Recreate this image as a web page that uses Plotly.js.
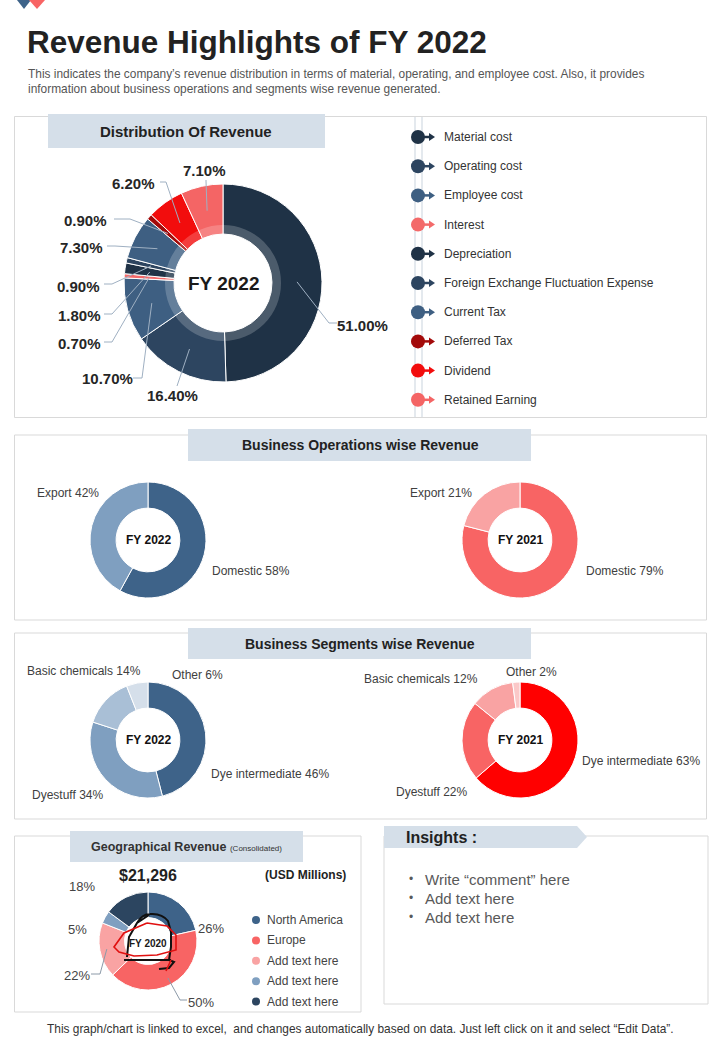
<!DOCTYPE html>
<html><head><meta charset="utf-8">
<script src="https://cdn.plot.ly/plotly-3.0.1.min.js"></script>
<style>html,body{margin:0;padding:0;background:#fff;} #chart{width:720px;height:1040px;}</style>
</head><body><div id="chart"></div>
<script>
// ---------------- DATA ----------------
const costCategories = ['Material cost','Operating cost','Employee cost','Interest','Depreciation','Foreign Exchange Fluctuation Expense','Current Tax','Deferred Tax','Dividend','Retained Earning'];
const costValues = [51.0, 16.4, 10.7, 0.7, 1.8, 0.9, 7.3, 0.9, 6.2, 7.1];
const costYear = 'FY 2022';

const opsCategories = ['Domestic','Export'];
const ops2022 = [58, 42];
const ops2021 = [79, 21];

const segCategories = ['Dye intermediate','Dyestuff','Basic chemicals','Other'];
const seg2022 = [46, 34, 14, 6];
const seg2021 = [63, 22, 12, 2];

const geoCategories = ['North America','Europe','Add text here','Add text here','Add text here'];
const geoValues = [26, 50, 22, 5, 18];
const geoTotal = '$21,296';
const geoUnit = '(USD Millions)';
const geoYear = 'FY 2020';

const insightLines = ['Write “comment” here','Add text here','Add text here'];

// ---------------- STYLE ----------------
const W = 720, H = 1040;
const FONT = 'Liberation Sans, Arial, sans-serif';
const costColors = ['#1f3246','#2d4560','#3e5f82','#f36a6a','#1f3246','#2d4560','#3e5f82','#a30a0a','#f20d0d','#f46565'];
const opsColors22 = ['#3e6389','#7f9fc0'];
const opsColors21 = ['#f86464','#f9a3a3'];
const segColors22 = ['#3e6389','#7f9fc0','#a9bfd6','#d5dfea'];
const segColors21 = ['#ff0000','#f86464','#f9a3a3','#fbc8c8'];
const geoColors = ['#3e6389','#f86464','#f9a3a3','#7f9fc0','#2c4560'];

function dom(cx, cy, r){ return {x:[(cx-r)/W,(cx+r)/W], y:[1-(cy+r)/H, 1-(cy-r)/H]}; }
function slicePoint(vals, i, cx, cy, r){
  const tot = vals.reduce((a,b)=>a+b,0);
  let c = 0; for(let k=0;k<i;k++) c += vals[k];
  const a = 2*Math.PI*(c + vals[i]/2)/tot;
  return [cx + r*Math.sin(a), cy - r*Math.cos(a)];
}
function pie(vals, labels, colors, cx, cy, r, hole, lw){
  return {type:'pie', values:vals, labels:labels.map((l,i)=>i+':'+l), sort:false, direction:'clockwise', rotation:0,
    hole:hole, domain:dom(cx,cy,r), textinfo:'none', hoverinfo:'skip', showlegend:false,
    marker:{colors:colors, line:{color:'#ffffff', width:lw}}};
}

const shapes = [], annotations = [];
function rect(x0,y0,x1,y1,fill,line,layer){ shapes.push({type:'rect',xref:'x',yref:'y',x0,y0,x1,y1,fillcolor:fill||'rgba(0,0,0,0)',line:line?{color:line,width:1}:{width:0},layer:layer||'below'}); }
function path(d,color,width,layer,fill){ shapes.push({type:'path',xref:'x',yref:'y',path:d,line:{color:color,width:width},fillcolor:fill||'rgba(0,0,0,0)',layer:layer||'above'}); }
function txt(x,y,t,size,color,xanchor,extra){ annotations.push(Object.assign({xref:'x',yref:'y',x,y,text:t,showarrow:false,xanchor:xanchor||'center',yanchor:'middle',font:{family:FONT,size:size,color:color}},extra||{})); }

// logo
path('M17,0 L31,0 L24,9 Z','#3e6389',0,'above','#3e6389');
path('M29,0 L45,0 L37,9 Z','#f86464',0,'above','#f86464');

// title & subtitle
txt(25,42,'<b>Revenue Highlights of FY 2022</b>',31.5,'#222222','left');
txt(26,81,'This indicates the company’s revenue distribution in terms of material, operating, and employee cost. Also, it provides<br>information about business operations and segments wise revenue generated.',11.9,'#555555','left',{align:'left'});

// ---------- Section 1 ----------
rect(14.5,116.5,706.5,417.5,null,'#d9d9d9');
rect(48,114,325,148,'#d5dfe9');
txt(186,131,'<b>Distribution Of Revenue</b>',15,'#222222');

const C1 = [223,283], R1 = 99;
const traces = [{type:'scatter',x:[],y:[],hoverinfo:'skip',showlegend:false}];
traces.push(pie(costValues, costCategories, costColors, C1[0], C1[1], R1, 49/99, 1));
traces.push({type:'pie', values:[1], labels:['ring'], sort:false, hole:49/58, domain:dom(C1[0],C1[1],58), textinfo:'none', hoverinfo:'skip', showlegend:false, marker:{colors:['rgba(255,255,255,0.2)'], line:{width:0}}});
txt(C1[0],C1[1],'<b>'+costYear+'</b>',19,'#1a1a1a');

// label positions (layout) and leader elbows
const costLabelPos = [[362,325],[172,395],[107,378],[79,343],[79,315],[78,286],[81,247],[85,220],[133,183],[204,170]];
const costLeader = [[[337,323],[329,323]],[[177,386],[177,386]],[[133,378],[142,378]],[[104,342],[112,342]],[[104,314],[112,314]],[[104,284],[112,284]],[[107,246],[115,246]],[[114,219],[130,219]],[[160,182],[166,182]],[[206,180],[206,181]]];
costValues.forEach((v,i)=>{
  txt(costLabelPos[i][0], costLabelPos[i][1], '<b>'+v.toFixed(2)+'%</b>', 15, '#262626');
  const p = slicePoint(costValues, i, C1[0], C1[1], 74);
  const L = costLeader[i];
  path('M'+L[0][0]+','+L[0][1]+' L'+L[1][0]+','+L[1][1]+' L'+p[0].toFixed(1)+','+p[1].toFixed(1), '#9fb0c2', 1);
});

// custom legend
path('M415,117 L415,417','#c9d3dd',1,'below');
path('M422,117 L422,417','#c9d3dd',1,'below');
costCategories.forEach((c,i)=>{
  const y = 137 + 29.2*i;
  const col = costColors[i];
  shapes.push({type:'circle',xref:'x',yref:'y',x0:411,x1:425,y0:y-7,y1:y+7,fillcolor:col,line:{width:0},layer:'above'});
  path('M424,'+y+' L430,'+y, col, 2.5);
  path('M429,'+(y-4)+' L435,'+y+' L429,'+(y+4)+' Z', col, 0, 'above', col);
  txt(442, y, c, 12, '#333333', 'left');
});

// ---------- Section 2 ----------
rect(14.5,435,706.5,620,null,'#d9d9d9');
rect(188,429,531,461,'#d5dfe9');
txt(360,445,'<b>Business Operations wise Revenue</b>',14,'#222222');
traces.push(pie(ops2022, opsCategories, opsColors22, 148, 540, 58, 0.55, 1));
traces.push(pie(ops2021, opsCategories, opsColors21, 520, 540, 58, 0.55, 1));
txt(148,540,'<b>FY 2022</b>',12,'#111111');
txt(520,540,'<b>FY 2021</b>',12,'#111111');
txt(210,571, opsCategories[0]+' '+ops2022[0]+'%',12,'#404040','left');
txt(101,493, opsCategories[1]+' '+ops2022[1]+'%',12,'#404040','right');
txt(584,571, opsCategories[0]+' '+ops2021[0]+'%',12,'#404040','left');
txt(474,493, opsCategories[1]+' '+ops2021[1]+'%',12,'#404040','right');

// ---------- Section 3 ----------
rect(14.5,633,706.5,819,null,'#d9d9d9');
rect(188,628,531,659,'#d5dfe9');
txt(360,644,'<b>Business Segments wise Revenue</b>',14,'#222222');
traces.push(pie(seg2022, segCategories, segColors22, 148, 740, 58, 0.55, 1));
traces.push(pie(seg2021, segCategories, segColors21, 520, 740, 58, 0.55, 1));
txt(148,740,'<b>FY 2022</b>',12,'#111111');
txt(520,740,'<b>FY 2021</b>',12,'#111111');
const seg22Pos = [[209,774],[30,795],[25,671],[170,675]];
const seg21Pos = [[580,761],[394,792],[362,679],[504,672]];
segCategories.forEach((c,i)=>{
  txt(seg22Pos[i][0], seg22Pos[i][1], c+' '+seg2022[i]+'%', 12, '#404040', 'left');
  txt(seg21Pos[i][0], seg21Pos[i][1], c+' '+seg2021[i]+'%', 12, '#404040', 'left');
});

// ---------- Section 4: Geographical ----------
rect(14.5,836,361,1012,null,'#d9d9d9');
rect(70,831,303,862,'#d5dfe9');
txt(186,847,'<b>Geographical Revenue</b> <span style="font-size:8px">(Consolidated)</span>',12.5,'#333333');
txt(148,875,'<b>'+geoTotal+'</b>',16,'#222222');
txt(305,875,'<b>'+geoUnit+'</b>',12,'#222222');
const C4 = [148,941], R4 = 49;
traces.push(pie(geoValues, geoCategories, geoColors, C4[0], C4[1], R4, 0.48, 1));
txt(C4[0],C4[1]+2,'<b>'+geoYear+'</b>',10,'#1a1a1a');
const geoLabelPos = [[211,928],[201,1002],[77,975],[77,929],[82,886]];
const geoLeader = [null,[[187,1000],[180,1000]],[[91,974],[100,974]],null,null];
geoValues.forEach((v,i)=>{
  txt(geoLabelPos[i][0], geoLabelPos[i][1], v+'%', 13, '#444444');
  if(geoLeader[i]){
    const p = slicePoint(geoValues, i, C4[0], C4[1], 42);
    const L = geoLeader[i];
    path('M'+L[0][0]+','+L[0][1]+' L'+L[1][0]+','+L[1][1]+' L'+p[0].toFixed(1)+','+p[1].toFixed(1), '#8c9aa8', 1);
  }
});
geoCategories.forEach((c,i)=>{
  const y = 920 + 20.4*i;
  shapes.push({type:'circle',xref:'x',yref:'y',x0:252,x1:260,y0:y-4,y1:y+4,fillcolor:geoColors[i],line:{width:0},layer:'above'});
  txt(265, y, c, 12, '#444444', 'left');
});
// hand-drawn marks over the centre
path('M137,923 Q142,914 150,914 Q162,913 168,921 L171,932 L171,947 L169,960 L174,962 L169,968 L159,969 M149,915 L137,923 L129,937 L127,957 M124,960 L171,960','#111111',2);
path('M147,923 L124,933 L114,947 L119,952 L134,956 L157,955 L176,950 L176,935 L167,926 L147,923 M171,960 L166,971','#e01010',1.6);

// ---------- Insights ----------
rect(384,836,708,1004,null,'#d9d9d9');
path('M384,826 L577,826 L587,837 L577,848 L384,848 Z','#d5dfe9',0,'above','#d5dfe9');
txt(404,837,'<b>Insights :</b>',16,'#222222','left');
insightLines.forEach((t,i)=>{
  const y = 879 + 19*i;
  txt(407, y, '•', 12, '#595959', 'left');
  txt(423, y, t, 15, '#595959', 'left');
});

// footer
txt(360,1029,'This graph/chart is linked to excel,  and changes automatically based on data. Just left click on it and select “Edit Data”.',11.9,'#333333');

const layout = {
  width:W, height:H, margin:{l:0,r:0,t:0,b:0},
  paper_bgcolor:'#ffffff', plot_bgcolor:'rgba(0,0,0,0)',
  xaxis:{range:[0,W], visible:false, fixedrange:true},
  yaxis:{range:[H,0], visible:false, fixedrange:true},
  showlegend:false, shapes:shapes, annotations:annotations
};
Plotly.newPlot('chart', traces, layout, {displayModeBar:false, staticPlot:true});
</script></body></html>
